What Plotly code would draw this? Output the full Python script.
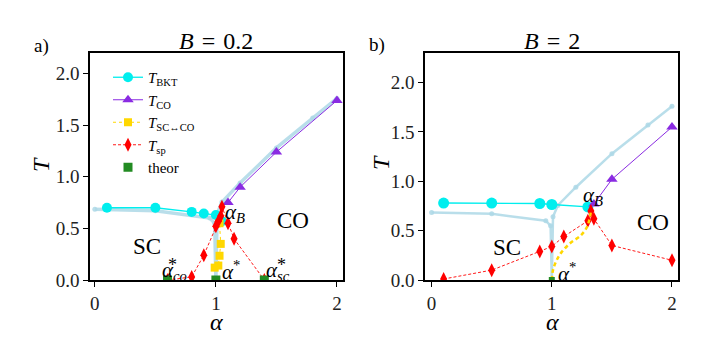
import plotly.graph_objects as go

# ---------------- data ----------------
# reference (light blue) curve, same in both panels
ref_x = [0.0, 0.5, 0.95, 0.99, 1.0, 1.01, 1.05, 1.2, 1.5, 1.8, 2.0]
ref_y = [0.685, 0.67, 0.60, 0.55, 0.0, 0.64, 0.755, 0.94, 1.28, 1.57, 1.76]

# panel a) B = 0.2
a_bkt_x = [0.1, 0.5, 0.8, 0.9, 1.0, 1.05]
a_bkt_y = [0.70, 0.70, 0.66, 0.645, 0.63, 0.57]
a_co_x = [1.1, 1.2, 1.5, 2.0]
a_co_y = [0.75, 0.90, 1.24, 1.74]
a_scco_x = [0.99, 1.02, 1.03, 1.04, 1.03]
a_scco_y = [0.12, 0.14, 0.235, 0.35, 0.55]
a_sp_x = [0.6, 0.8, 0.9, 1.0, 1.02, 1.04, 1.05, 1.1, 1.15, 1.4]
a_sp_y = [0.0, 0.03, 0.24, 0.52, 0.57, 0.62, 0.71, 0.55, 0.40, 0.0]
a_th_x = [0.6, 1.0, 1.4]
a_th_y = [0.0, 0.0, 0.0]

# panel b) B = 2
b_bkt_x = [0.1, 0.5, 0.9, 1.0, 1.3]
b_bkt_y = [0.78, 0.78, 0.775, 0.765, 0.74]
b_co_x = [1.35, 1.5, 2.0]
b_co_y = [0.77, 1.02, 1.55]
b_scco_x = [1.0, 1.01, 1.04, 1.08, 1.15, 1.24, 1.29, 1.31, 1.325]
b_scco_y = [0.0, 0.1, 0.2, 0.28, 0.37, 0.45, 0.53, 0.60, 0.69]
b_sp_x = [0.1, 0.5, 0.9, 1.0, 1.1, 1.3, 1.325, 1.35, 1.5, 2.0]
b_sp_y = [0.01, 0.10, 0.29, 0.34, 0.44, 0.60, 0.70, 0.62, 0.35, 0.20]
b_th_x = [1.0]
b_th_y = [0.0]

x_ticks = [0, 1, 2]
y_ticks = [0.0, 0.5, 1.0, 1.5, 2.0]

# ---------------- style ----------------
FONT = "Liberation Serif"
CYAN = "#00EEEE"
PURPLE = "#8A2BE2"
GOLD = "#FFD700"
RED = "#FF0000"
GREEN = "#228B22"
LIGHT = "rgba(173,216,230,0.85)"

W, H = 706, 361

def px2x(p):
    return p / W

def px2y(p):
    return 1 - p / H

fig = go.Figure()

def add_panel(row, ref, bkt, co, scco, sp, th, legend, yellow_style):
    xa = "x" if row == 1 else "x2"
    ya = "y" if row == 1 else "y2"
    lw_ref = 3.5 if row == 1 else 2.5
    fig.add_trace(go.Scatter(x=ref[0], y=ref[1], mode="lines+markers", xaxis=xa, yaxis=ya,
                             line=dict(color=LIGHT, width=lw_ref),
                             marker=dict(size=5, color=LIGHT), showlegend=False, hoverinfo="skip"))
    fig.add_trace(go.Scatter(x=bkt[0], y=bkt[1], mode="lines+markers", xaxis=xa, yaxis=ya,
                             name="<i>T</i><sub>BKT</sub>", showlegend=legend, legendrank=1,
                             line=dict(color=CYAN, width=1.3),
                             marker=dict(symbol="circle", size=10 if row == 1 else 11, color=CYAN)))
    fig.add_trace(go.Scatter(x=co[0], y=co[1], mode="lines+markers", xaxis=xa, yaxis=ya,
                             name="<i>T</i><sub>CO</sub>", showlegend=legend, legendrank=2,
                             line=dict(color=PURPLE, width=1),
                             marker=dict(symbol="triangle-up", size=10, color=PURPLE)))
    yellow = go.Scatter(x=scco[0], y=scco[1], xaxis=xa, yaxis=ya,
                        name="<i>T</i><sub>SC↔CO</sub>", showlegend=legend, legendrank=3)
    if yellow_style == "markers":
        yellow.update(mode="lines+markers", line=dict(color=GOLD, width=1, dash="dot"),
                      marker=dict(symbol="square", size=8, color=GOLD))
    else:
        yellow.update(mode="lines", line=dict(color=GOLD, width=2.5, dash="4px,3px", shape="spline"))
    red = go.Scatter(x=sp[0], y=sp[1], mode="lines+markers", xaxis=xa, yaxis=ya,
                     name="<i>T</i><sub>sp</sub>", showlegend=legend, legendrank=4,
                     line=dict(color=RED, width=0.9, dash="3px,2px"),
                     marker=dict(symbol="diamond-tall", size=10, color=RED))
    if yellow_style == "markers":
        fig.add_trace(yellow)
        fig.add_trace(red)
    else:
        fig.add_trace(red)
        fig.add_trace(yellow)
    fig.add_trace(go.Scatter(x=th[0], y=th[1], mode="markers", xaxis=xa, yaxis=ya,
                             name="theor", showlegend=legend, legendrank=5,
                             marker=dict(symbol="square", size=9 if row == 1 else 6, color=GREEN)))

add_panel(1, (ref_x, ref_y), (a_bkt_x, a_bkt_y), (a_co_x, a_co_y), (a_scco_x, a_scco_y),
          (a_sp_x, a_sp_y), (a_th_x, a_th_y), True, "markers")
add_panel(2, (ref_x, ref_y), (b_bkt_x, b_bkt_y), (b_co_x, b_co_y), (b_scco_x, b_scco_y),
          (b_sp_x, b_sp_y), (b_th_x, b_th_y), False, "dashed")

axis_common = dict(showline=True, mirror=True, linecolor="black", linewidth=1.5,
                   ticks="outside", ticklen=5, tickwidth=1.2, tickcolor="black",
                   showgrid=False, zeroline=False,
                   tickfont=dict(family=FONT, size=19, color="#222"))

fig.update_layout(
    width=W, height=H,
    margin=dict(l=0, r=0, t=0, b=0, autoexpand=False),
    paper_bgcolor="white", plot_bgcolor="white",
    font=dict(family=FONT, color="black"),
    xaxis=dict(domain=[px2x(90), px2x(343)], range=[-0.04, 2.05], tickvals=x_ticks,
               anchor="y", **axis_common),
    yaxis=dict(domain=[px2y(280), px2y(53)], range=[0, 2.2], tickvals=y_ticks, tickformat=".1f",
               anchor="x", **axis_common),
    xaxis2=dict(domain=[px2x(425), px2x(678)], range=[-0.055, 2.05], tickvals=x_ticks,
                anchor="y2", **axis_common),
    yaxis2=dict(domain=[px2y(280), px2y(53)], range=[0, 2.3], tickvals=y_ticks, tickformat=".1f",
                anchor="x2", **axis_common),
    legend=dict(x=px2x(108), y=px2y(61), xanchor="left", yanchor="top",
                bgcolor="rgba(0,0,0,0)", borderwidth=0,
                font=dict(family=FONT, size=15, color="black"),
                tracegroupgap=0, itemwidth=30),
    showlegend=True,
)

ann = []

def paper_text(x, y, text, size, angle=0):
    ann.append(dict(xref="paper", yref="paper", x=px2x(x), y=px2y(y), text=text,
                    showarrow=False, xanchor="center", yanchor="middle", textangle=angle,
                    font=dict(family=FONT, size=size, color="black")))

def data_text(panel, x, y, text, size):
    ann.append(dict(xref="x" if panel == 1 else "x2", yref="y" if panel == 1 else "y2",
                    x=x, y=y, text=text, showarrow=False, xanchor="center", yanchor="middle",
                    font=dict(family=FONT, size=size, color="black")))

# titles and panel labels
paper_text(216, 41, "<i>B</i>\u2004=\u20040.2", 24)
paper_text(552, 41, "<i>B</i>\u2004=\u20042", 24)
paper_text(41, 46, "a)", 19)
paper_text(377, 45, "b)", 19)
# axis labels
paper_text(41, 165, "<i>T</i>", 24, -90)
paper_text(381, 163, "<i>T</i>", 24, -90)
paper_text(216, 322, "<i>α</i>", 24)
paper_text(552, 322, "<i>α</i>", 24)

# panel a annotations
data_text(1, 0.43, 0.32, "SC", 23)
data_text(1, 1.64, 0.575, "CO", 23)
data_text(1, 1.157, 0.65, "<i>α</i><sub><i>B</i></sub>", 21)
data_text(1, 0.66, 0.085, "<i>α</i><sub><i>co</i></sub>", 21)
data_text(1, 0.645, 0.15, "*", 18)
data_text(1, 1.125, 0.09, "<i>α</i><sup>*</sup>", 21)
data_text(1, 1.513, 0.085, "<i>α</i><sub><i>sc</i></sub>", 21)
data_text(1, 1.54, 0.15, "*", 18)

# panel b annotations
data_text(2, 0.63, 0.33, "SC", 23)
data_text(2, 1.845, 0.58, "CO", 23)
data_text(2, 1.345, 0.85, "<i>α</i><sub><i>B</i></sub>", 21)
data_text(2, 1.128, 0.075, "<i>α</i><sup>*</sup>", 21)

fig.update_layout(annotations=ann)

fig.write_html("out.html", config={"displayModeBar": False},
               post_script="document.body.style.margin='0px';")
